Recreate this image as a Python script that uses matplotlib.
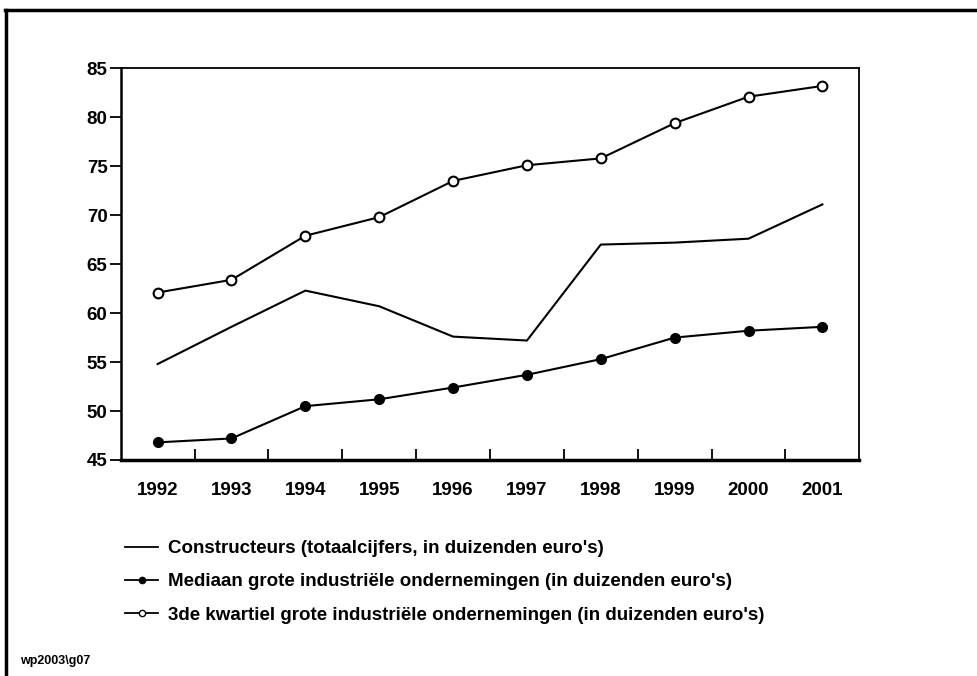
import matplotlib
matplotlib.use("Agg")
import matplotlib.pyplot as plt
from matplotlib.lines import Line2D
import numpy as np

years = ["1992", "1993", "1994", "1995", "1996", "1997", "1998", "1999", "2000", "2001"]
constructeurs = [54.8, 58.6, 62.3, 60.7, 57.6, 57.2, 67.0, 67.2, 67.6, 71.1]
mediaan = [46.8, 47.2, 50.5, 51.2, 52.4, 53.7, 55.3, 57.5, 58.2, 58.6]
kwartiel3 = [62.1, 63.4, 67.9, 69.8, 73.5, 75.1, 75.8, 79.4, 82.1, 83.2]
yticks = [45, 50, 55, 60, 65, 70, 75, 80, 85]
labels = ["Constructeurs (totaalcijfers, in duizenden euro's)",
          "Mediaan grote industriële ondernemingen (in duizenden euro's)",
          "3de kwartiel grote industriële ondernemingen (in duizenden euro's)"]
footnote = "wp2003\\g07"

plt.rcParams['font.family'] = ['Liberation Sans', 'DejaVu Sans']

fig = plt.figure(figsize=(9.78, 6.76), dpi=100)
fig.patch.set_facecolor("white")
W, H = 978, 676
ax = fig.add_axes([120.7 / W, 1 - 460 / H, (859.3 - 120.7) / W, (460 - 68.3) / H])

x = np.arange(len(years))
ax.plot(x, constructeurs, color="black", lw=1.5, label=labels[0])
ax.plot(x, mediaan, color="black", lw=1.5, marker="o", markersize=7,
        markerfacecolor="black", markeredgecolor="black", label=labels[1])
ax.plot(x, kwartiel3, color="black", lw=1.5, marker="o", markersize=7,
        markerfacecolor="white", markeredgecolor="black", markeredgewidth=1.5,
        label=labels[2])

ax.set_xlim(-0.5, len(years) - 0.5)
ax.set_ylim(45, 85)
ax.set_yticks(yticks)
ax.set_yticklabels([str(v) for v in yticks], fontsize=13.5, fontweight="bold")
ax.set_xticks(x)
ax.set_xticklabels(years, fontsize=13.5, fontweight="bold")
ax.tick_params(axis="x", which="major", length=0, pad=16)
ax.set_xticks(np.arange(0.5, len(years) - 0.5, 1), minor=True)
ax.tick_params(axis="x", which="minor", direction="in", length=8, width=1.3)
ax.tick_params(axis="y", direction="out", length=8, width=1.3, pad=1.5)
for s in ["top", "right"]:
    ax.spines[s].set_linewidth(1.3)
ax.spines["left"].set_linewidth(1.8)
ax.spines["bottom"].set_linewidth(2.5)

handles = [
    Line2D([], [], color="black", lw=1.3),
    Line2D([], [], color="black", lw=1.3, marker="o", markersize=4.5,
           markerfacecolor="black", markeredgecolor="black"),
    Line2D([], [], color="black", lw=1.3, marker="o", markersize=4.5,
           markerfacecolor="white", markeredgecolor="black"),
]
fig.legend(handles, labels, loc="upper left", bbox_to_anchor=(125 / W, 1 - 540 / H),
           frameon=False, prop={"weight": "bold", "size": 13.5},
           handlelength=1.76, handletextpad=0.53, labelspacing=0.86, borderaxespad=0,
           borderpad=0)

fig.text(20 / W, 1 - 661 / H, footnote, fontsize=9, fontweight="bold", va="center")

# outer frame (top and left)
fig.add_artist(Line2D([6.5 / W, 6.5 / W], [0, 1 - 9.5 / H], color="black", lw=2.5,
                      transform=fig.transFigure))
fig.add_artist(Line2D([5.3 / W, 1], [1 - 9.5 / H, 1 - 9.5 / H], color="black", lw=2.5,
                      transform=fig.transFigure))

fig.savefig("out.png", dpi=100, facecolor="white")
